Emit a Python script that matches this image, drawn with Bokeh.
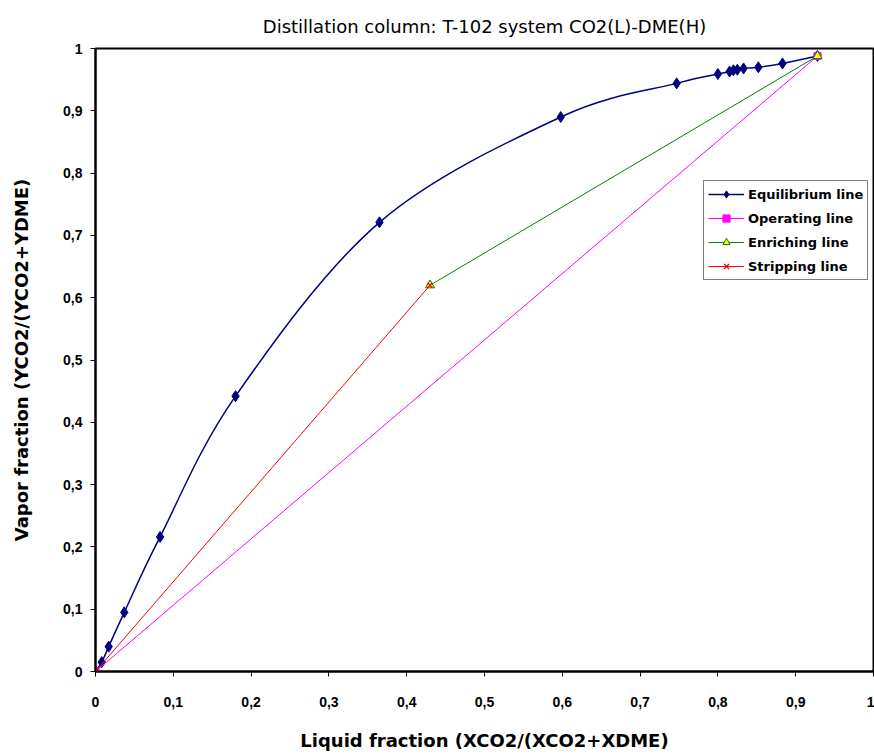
import numpy as np
from bokeh.plotting import figure
from bokeh.models import (ColumnDataSource, FixedTicker, Legend, LegendItem,
                          Range1d)
from bokeh.embed import file_html
from bokeh.resources import INLINE

# Equilibrium curve (liquid vs vapour CO2 fraction)
eq_x = [0.0, 0.008, 0.017, 0.037, 0.083, 0.18, 0.365, 0.598, 0.747,
        0.80, 0.815, 0.82, 0.825, 0.833, 0.852, 0.883, 0.928]
eq_y = [0.0, 0.015, 0.040, 0.095, 0.216, 0.442, 0.721, 0.890, 0.944,
        0.959, 0.963, 0.965, 0.966, 0.968, 0.970, 0.976, 0.988]

# Operating line end points
op_x = [0.0, 0.928]
op_y = [0.0, 0.988]

# Enriching section
en_x = [0.43, 0.928]
en_y = [0.62, 0.988]

# Stripping section
st_x = [0.0, 0.43]
st_y = [0.0, 0.62]

ticks = [i / 10 for i in range(11)]
tick_labels = {t: ("0" if t == 0 else "1" if t == 1 else f"{t:.1f}".replace(".", ","))
               for t in ticks}

FONT = "Liberation Sans"
WIDE = "DejaVu Sans"
NAVY = "#000080"
MAGENTA = "#ff00ff"
GREEN = "#008000"
RED = "#ff0000"

p = figure(width=874, height=755, frame_width=778, frame_height=623,
           min_border_left=95, min_border_right=1, min_border_top=48,
           min_border_bottom=84, output_backend="svg", toolbar_location=None,
           x_range=Range1d(0, 1), y_range=Range1d(0, 1),
           title="Distillation column: T-102 system CO2(L)-DME(H)")

p.title.align = "center"
p.title.offset = -8
p.title.text_font = WIDE
p.title.text_font_size = "18px"
p.title.text_font_style = "normal"
p.title.text_color = "black"
p.title.standoff = 23

p.background_fill_color = "white"
p.border_fill_color = "white"
p.outline_line_color = "black"
p.outline_line_width = 2
p.xgrid.visible = False
p.ygrid.visible = False

for ax in (p.xaxis[0], p.yaxis[0]):
    ax.ticker = FixedTicker(ticks=ticks)
    ax.major_label_overrides = tick_labels
    ax.axis_line_color = "black"
    ax.axis_line_width = 2
    ax.major_tick_line_color = "black"
    ax.major_tick_line_width = 1
    ax.major_tick_in = 0
    ax.major_tick_out = 5
    ax.minor_tick_line_color = None
    ax.major_label_text_font = FONT
    ax.major_label_text_font_size = "14px"
    ax.major_label_text_font_style = "bold"
    ax.major_label_text_color = "black"
    ax.axis_label_text_font = WIDE
    ax.axis_label_text_font_size = "18px"
    ax.axis_label_text_font_style = "bold"
    ax.axis_label_text_color = "black"

p.xaxis.axis_label = "Liquid fraction (XCO2/(XCO2+XDME)"
p.yaxis.axis_label = "Vapor fraction (YCO2/(YCO2+YDME)"
p.xaxis.major_label_standoff = 20
p.xaxis.axis_label_standoff = 20
p.yaxis.major_label_standoff = 8
p.yaxis.axis_label_standoff = 28

# Smoothed equilibrium curve: cubic Bezier segments through the data points
ex = np.array(eq_x)
ey = np.array(eq_y)
pxm = np.concatenate([[ex[0]], ex[:-1]])
pym = np.concatenate([[ey[0]], ey[:-1]])
pxp = np.concatenate([ex[1:], [ex[-1]]])
pyp = np.concatenate([ey[1:], [ey[-1]]])
tx = (pxp - pxm) / 6.0
ty = (pyp - pym) / 6.0
seg = ColumnDataSource(dict(
    x0=ex[:-1], y0=ey[:-1], x1=ex[1:], y1=ey[1:],
    cx0=ex[:-1] + tx[:-1], cy0=ey[:-1] + ty[:-1],
    cx1=ex[1:] - tx[1:], cy1=ey[1:] - ty[1:],
))
eq_curve = p.bezier(x0="x0", y0="y0", x1="x1", y1="y1", cx0="cx0", cy0="cy0",
                    cx1="cx1", cy1="cy1", source=seg, line_color=NAVY,
                    line_width=1.5)
eq_pts = p.scatter(eq_x, eq_y, marker="diamond", size=11,
                   fill_color=NAVY, line_color=NAVY)

# Operating line
op_line = p.line(op_x, op_y, line_color=MAGENTA, line_width=1)
op_pts = p.scatter(op_x, op_y, marker="square", size=7,
                   fill_color=MAGENTA, line_color=MAGENTA)

# Enriching line
en_line = p.line(en_x, en_y, line_color=GREEN, line_width=1)
en_pts = p.scatter(en_x, en_y, marker="triangle", size=9,
                   fill_color="#ffff00", line_color=GREEN, line_width=1)

# Stripping line
st_line = p.line(st_x, st_y, line_color=RED, line_width=1)
st_pts = p.scatter(st_x, st_y, marker="x", size=7,
                   line_color=RED, line_width=1.2)

legend = Legend(items=[
    LegendItem(label="Equilibrium line", renderers=[eq_curve, eq_pts]),
    LegendItem(label="Operating line", renderers=[op_line, op_pts]),
    LegendItem(label="Enriching line", renderers=[en_line, en_pts]),
    LegendItem(label="Stripping line", renderers=[st_line, st_pts]),
], location=(608, 391))
legend.label_text_font = WIDE
legend.label_text_font_size = "13px"
legend.label_text_font_style = "bold"
legend.label_text_color = "black"
legend.glyph_width = 36
legend.glyph_height = 18
legend.label_height = 18
legend.spacing = 6
legend.padding = 4
legend.margin = 0
legend.label_standoff = 4
legend.border_line_color = "black"
legend.border_line_width = 1
legend.background_fill_color = "white"
legend.background_fill_alpha = 1
p.add_layout(legend, "center")

open("out.html", "w").write(file_html(p, INLINE))
